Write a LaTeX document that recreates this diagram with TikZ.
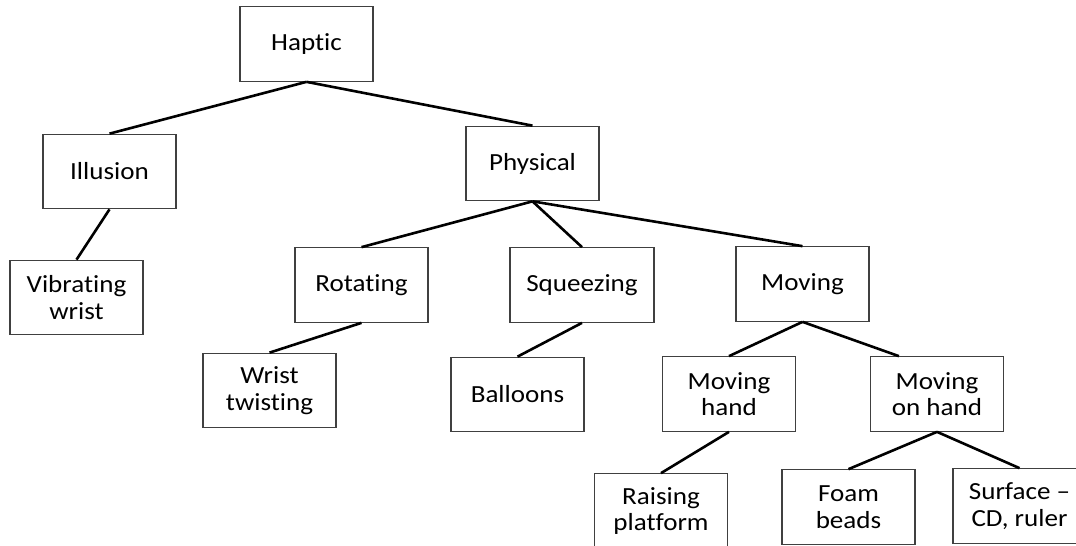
\documentclass[tikz,border=0pt]{standalone}
\usepackage{fontspec}
\setmainfont{Carlito}[FakeStretch=1.1, Ligatures={NoCommon}]
\usetikzlibrary{calc}
\begin{document}
\begin{tikzpicture}[x=1pt,y=-1pt,
  box/.style={draw=black!75, line width=1.2pt, rectangle, minimum width=133pt, minimum height=74.5pt,
    inner sep=0pt, align=center, font=\fontsize{24.6}{26.7}\selectfont, text=black},
  link/.style={line width=2.6pt, black}]
\useasboundingbox (0,0) rectangle (1076,546);
\clip (0,0) rectangle (1076,546);
\node[box] (hap) at (306.5,44) {Haptic};
\node[box] (ill) at (109.5,171.5) {Illusion};
\node[box] (phy) at (532.5,163.5) {Physical};
\node[box] (vib) at (76.5,297.5) {Vibrating\\wrist};
\node[box] (rot) at (361.5,285) {Rotating};
\node[box, minimum width=144pt] (squ) at (582,285) {Squeezing};
\node[box] (mov) at (802.5,284) {Moving};
\node[box] (wri) at (269.5,390.5) {Wrist\\twisting};
\node[box] (bal) at (517.5,394.5) {Balloons};
\node[box] (mvh) at (729,394) {Moving\\hand};
\node[box] (moh) at (937,394) {Moving\\on hand};
\node[box] (rai) at (661,511) {Raising\\platform};
\node[box] (foa) at (848.5,507) {Foam\\beads};
\node[box] (sur) at (1019.5,506) {Surface --\\CD, ruler};
\draw[link] (hap.south) -- (ill.north);
\draw[link] (hap.south) -- (phy.north);
\draw[link] (ill.south) -- (vib.north);
\draw[link] (phy.south) -- (rot.north);
\draw[link] (phy.south) -- (squ.north);
\draw[link] (phy.south) -- (mov.north);
\draw[link] (rot.south) -- (wri.north);
\draw[link] (squ.south) -- (bal.north);
\draw[link] (mov.south) -- (mvh.north);
\draw[link] (mov.south) -- ([xshift=29pt]moh.north west);
\draw[link] (mvh.south) -- (rai.north);
\draw[link] (moh.south) -- (foa.north);
\draw[link] (moh.south) -- (sur.north);
\end{tikzpicture}
\end{document}
